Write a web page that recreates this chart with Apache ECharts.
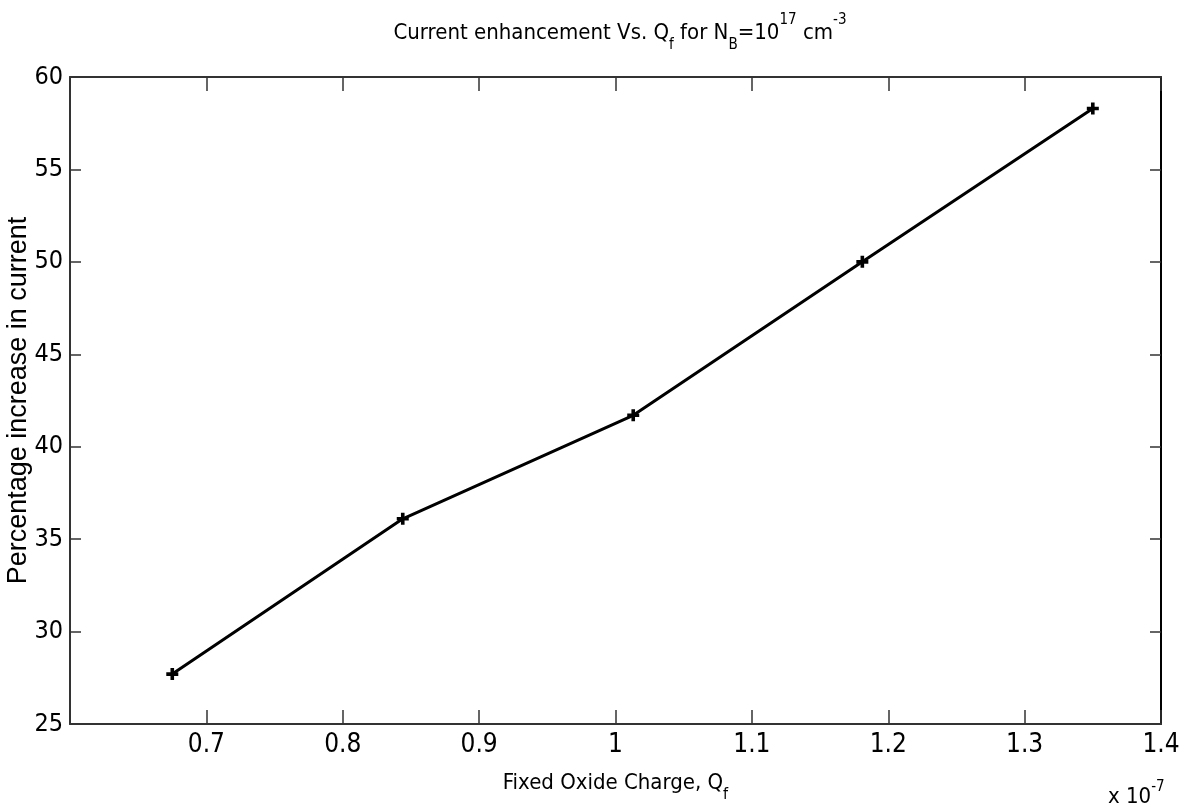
<!DOCTYPE html>
<html>
<head>
<meta charset="utf-8">
<script src="https://cdn.jsdelivr.net/npm/echarts@6/dist/echarts.min.js"></script>
<style>
  html, body { margin: 0; background: #fff; }
  #chart { width: 1189px; height: 812px; }
</style>
</head>
<body>
<div id="chart"></div>
<script>
// fixed oxide charge, in units of 1e-7 (the "x 10^-7" multiplier is drawn under the axis)
var qf = [0.675, 0.844, 1.013, 1.181, 1.35]
var increase = [27.7, 36.1, 41.7, 50.0, 58.3]

// axis ranges / tick steps
var xMin = 0.6, xMax = 1.4, xStep = 0.1
var yMin = 25, yMax = 60, yStep = 5

var FONT = '"Liberation Sans Narrow", "DejaVu Sans Condensed", "Liberation Sans", Arial, sans-serif'
var AXIS_COLOR = '#333'

var chart = echarts.init(document.getElementById('chart'))

function subSup(size) {
  return {
    sub: { fontSize: size, fontFamily: FONT, color: '#000', verticalAlign: 'bottom', lineHeight: 22 },
    sup: { fontSize: size, fontFamily: FONT, color: '#000', verticalAlign: 'top', lineHeight: 22 }
  }
}

chart.setOption({
  animation: false,
  title: {
    text: 'Current enhancement Vs. Q{sub|f} for N{sub|B}=10{sup|17} cm{sup|-3}',
    left: 615,
    textAlign: 'center',
    top: 8,
    textStyle: {
      fontSize: 22,
      fontWeight: 'normal',
      fontFamily: FONT,
      color: '#000',
      lineHeight: 40,
      rich: subSup(15)
    }
  },
  grid: {
    left: 70,
    right: 28,
    top: 77,
    bottom: 88,
    outerBoundsMode: 'none'
  },
  xAxis: [{
    type: 'value',
    min: xMin,
    max: xMax,
    interval: xStep,
    name: 'Fixed Oxide Charge, Q{sub|f}',
    nameLocation: 'middle',
    nameGap: 38,
    nameTextStyle: {
      fontSize: 22,
      fontFamily: FONT,
      color: '#000',
      lineHeight: 40,
      rich: subSup(16)
    },
    axisLine: { lineStyle: { color: AXIS_COLOR, width: 2 } },
    axisTick: { inside: true, length: 14, lineStyle: { color: AXIS_COLOR, width: 1.5 } },
    axisLabel: {
      margin: 8,
      fontSize: 26,
      fontFamily: FONT,
      color: '#000',
      formatter: function (v) {
        if (Math.abs(v - xMin) < 1e-9) return ''
        return +v.toFixed(1) + ''
      }
    },
    splitLine: { show: false }
  }, {
    type: 'value',
    position: 'top',
    min: xMin,
    max: xMax,
    interval: xStep,
    axisLine: { lineStyle: { color: AXIS_COLOR, width: 2 } },
    axisTick: { inside: true, length: 14, lineStyle: { color: AXIS_COLOR, width: 1.5 } },
    axisLabel: { show: false },
    splitLine: { show: false }
  }],
  yAxis: [{
    type: 'value',
    min: yMin,
    max: yMax,
    interval: yStep,
    name: 'Percentage increase in current',
    nameLocation: 'middle',
    nameGap: 38,
    nameMoveOverlap: false,
    nameTextStyle: {
      fontSize: 27,
      fontFamily: '"Liberation Sans", Arial, sans-serif',
      color: '#000'
    },
    axisLine: { show: true, lineStyle: { color: AXIS_COLOR, width: 2 } },
    axisTick: { show: true, inside: true, length: 11, lineStyle: { color: AXIS_COLOR, width: 1.5 } },
    axisLabel: {
      margin: 7,
      fontSize: 25,
      fontFamily: FONT,
      color: '#000'
    },
    splitLine: { show: false }
  }, {
    type: 'value',
    position: 'right',
    min: yMin,
    max: yMax,
    interval: yStep,
    axisLine: { show: true, lineStyle: { color: '#000', width: 2 } },
    axisTick: { show: true, inside: true, length: 11, lineStyle: { color: AXIS_COLOR, width: 1.5 } },
    axisLabel: { show: false },
    splitLine: { show: false }
  }],
  graphic: [{
    type: 'text',
    left: 1108,
    top: 780,
    style: {
      text: 'x 10{sup|-7}',
      fontSize: 22,
      fontFamily: FONT,
      fill: '#000',
      lineHeight: 34,
      rich: subSup(15)
    }
  }],
  series: [{
    type: 'line',
    data: qf.map(function (x, i) { return [x, increase[i]] }),
    symbol: 'path://M3.5,0H6.5V3.5H10V6.5H6.5V10H3.5V6.5H0V3.5H3.5Z',
    symbolSize: 12,
    showSymbol: true,
    itemStyle: { color: '#000' },
    lineStyle: { color: '#000', width: 3 },
    emphasis: { disabled: true }
  }]
})
</script>
</body>
</html>
